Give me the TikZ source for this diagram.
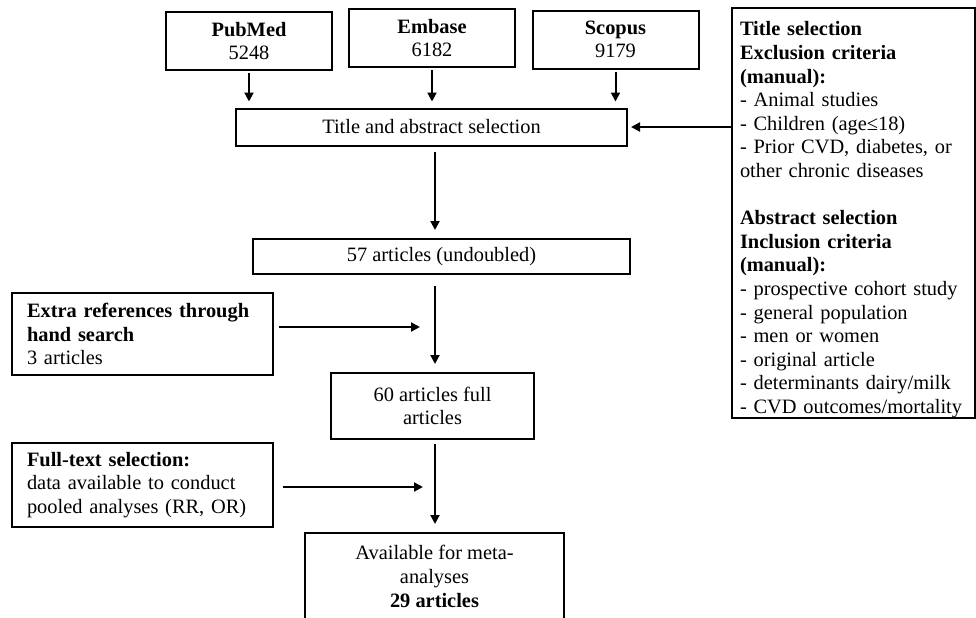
\documentclass[tikz,border=0pt]{standalone}
\usepackage{fontspec}
\setmainfont{Liberation Serif}
\usetikzlibrary{arrows.meta}
\begin{document}
\begin{tikzpicture}[x=0.5pt,y=-0.5pt,line width=1pt,
  >={Triangle[length=4.5pt,width=4.5pt]},
  every node/.style={font=\fontsize{10.2}{11.8}\selectfont},
  dbbox/.style={draw,minimum width=83pt,minimum height=29pt,inner sep=0pt,align=center},
  flowbox/.style={draw,inner sep=0pt,align=center},
  sidebox/.style={draw,inner xsep=7.5pt,inner ysep=0pt,text width=115.5pt,align=left}]
\useasboundingbox (0,0) rectangle (976,617);
\node[dbbox] (pubmed) at (249,41) {\textbf{PubMed}\\5248};
\node[dbbox] (embase) at (432,38) {\textbf{Embase}\\6182};
\node[dbbox] (scopus) at (615.5,39.5) {\textbf{Scopus}\\9179};
\node[flowbox,minimum width=195.5pt,minimum height=18.5pt] (title) at (431.5,127) {Title and abstract selection};
\node[draw,inner xsep=4pt,inner ysep=0pt,text width=113.5pt,minimum height=204pt,align=left] (crit) at (853.5,213)
  {\rule{0pt}{13.8pt}\textbf{Title selection}\\
   \textbf{Exclusion criteria}\\
   \textbf{(manual):}\\
   - Animal studies\\
   - Children (age≤18)\\
   - Prior CVD, diabetes, or\\
   other chronic diseases\\[11.8pt]
   \textbf{Abstract selection}\\
   \textbf{Inclusion criteria}\\
   \textbf{(manual):}\\
   - prospective cohort study\\
   - general population\\
   - men or women\\
   - original article\\
   - determinants dairy/milk\\
   - CVD outcomes/mortality};
\node[flowbox,minimum width=188.5pt,minimum height=17.5pt] (uniq) at (441.5,256.5) {57 articles (undoubled)};
\node[sidebox,minimum height=41pt] (extra) at (142.5,334) {\textbf{Extra references through}\\\textbf{hand search}\\3 articles};
\node[flowbox,minimum width=101.5pt,minimum height=33pt] (fulltext) at (432.5,406) {60 articles full\\articles};
\node[sidebox,minimum height=42pt] (crit2) at (142.5,485) {\textbf{Full-text selection:}\\data available to conduct\\pooled analyses (RR, OR)};
\node[flowbox,minimum width=129.5pt,minimum height=43.5pt] (final) at (434.5,576.5) {Available for meta-\\analyses\\\textbf{29 articles}};
\coordinate (col) at (435,0);
\coordinate (extratip) at (420,327);
\coordinate (crit2tip) at (423,487);
\foreach \db in {pubmed,embase,scopus}
  \draw[->,shorten <=1pt,shorten >=3pt] (\db.south) -- (\db.south |- title.north);
\draw[->,shorten >=1.5pt] (crit.west |- title.east) -- (title.east);
\draw[->,shorten <=2.5pt,shorten >=4pt] (title.south -| col) -- (uniq.north -| col);
\draw[->,shorten <=5.5pt,shorten >=4pt] (uniq.south -| col) -- (fulltext.north -| col);
\draw[->,shorten <=2pt,shorten >=4pt] (fulltext.south -| col) -- (final.north -| col);
\draw[->,shorten <=2.5pt] (extratip -| extra.east) -- (extratip);
\draw[->,shorten <=4.5pt] (crit2tip -| crit2.east) -- (crit2tip);
\end{tikzpicture}
\end{document}
